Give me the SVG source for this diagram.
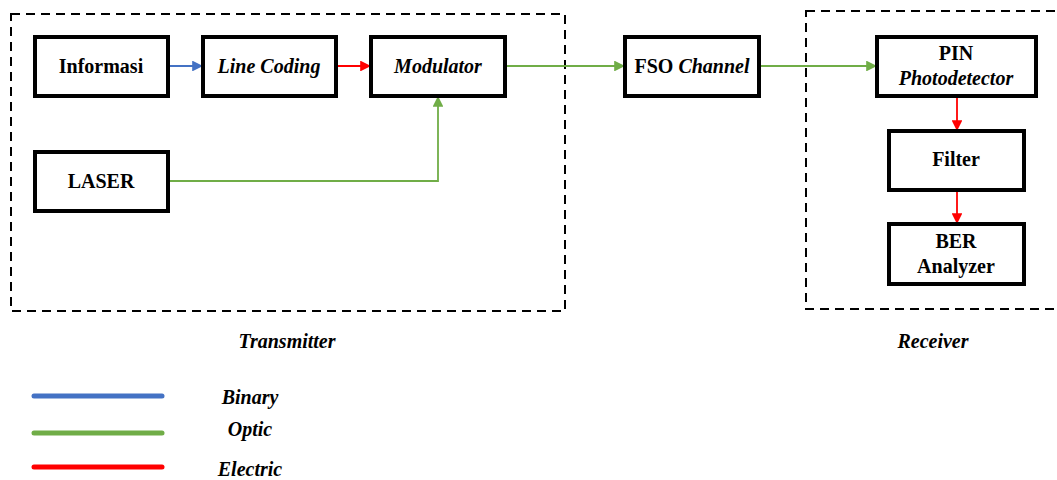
<svg xmlns="http://www.w3.org/2000/svg" width="1057" height="480" viewBox="0 0 1057 480">
<style>
.box{fill:#fff;stroke:#000;stroke-width:4}
.grp{fill:none;stroke:#000;stroke-width:2;stroke-dasharray:9,6}
text{font-family:"Liberation Serif",serif;font-size:20px;font-weight:bold;fill:#000;text-anchor:middle}
.i{font-style:italic}
.c{fill:none;stroke-width:1.8}
.blue{stroke:#4472C4}
.green{stroke:#70AD47}
.red{stroke:#FF0000}
.leg{stroke-width:5;stroke-linecap:round}
</style>
<defs>
<marker id="ab" viewBox="0 0 10 10" refX="10" refY="5" markerWidth="6.5" markerHeight="6" orient="auto" markerUnits="strokeWidth"><path d="M0,0L10,5L0,10z" fill="#4472C4"/></marker>
<marker id="ag" viewBox="0 0 10 10" refX="10" refY="5" markerWidth="6.5" markerHeight="6" orient="auto" markerUnits="strokeWidth"><path d="M0,0L10,5L0,10z" fill="#70AD47"/></marker>
<marker id="ar" viewBox="0 0 10 10" refX="10" refY="5" markerWidth="6.5" markerHeight="6" orient="auto" markerUnits="strokeWidth"><path d="M0,0L10,5L0,10z" fill="#FF0000"/></marker>
</defs>
<g id="groups">
<rect class="grp" x="11" y="14" width="554" height="297"/>
<rect class="grp" x="806" y="11" width="260" height="298"/>
<text class="i" x="287" y="348">Transmitter</text>
<text class="i" x="933" y="348">Receiver</text>
</g>
<g id="connectors">
<path class="c blue" d="M168,66H203" marker-end="url(#ab)"/>
<path class="c red" d="M336,66H371" marker-end="url(#ar)"/>
<path class="c green" d="M505,66H625" marker-end="url(#ag)"/>
<path class="c green" d="M168,181H438V96" marker-end="url(#ag)"/>
<path class="c green" d="M759,66H877" marker-end="url(#ag)"/>
<path class="c red" d="M957,96V131" marker-end="url(#ar)"/>
<path class="c red" d="M957,190V224" marker-end="url(#ar)"/>
</g>
<g id="informasi"><rect class="box" x="35" y="37" width="133" height="59"/><text x="101" y="73">Informasi</text></g>
<g id="line-coding"><rect class="box" x="203" y="37" width="133" height="59"/><text class="i" x="269" y="73">Line Coding</text></g>
<g id="modulator"><rect class="box" x="371" y="37" width="134" height="59"/><text class="i" x="438" y="73">Modulator</text></g>
<g id="laser"><rect class="box" x="35" y="152" width="133" height="59"/><text x="101" y="188">LASER</text></g>
<g id="fso-channel"><rect class="box" x="625" y="37" width="134" height="59"/><text x="692" y="73">FSO <tspan class="i">Channel</tspan></text></g>
<g id="pin"><rect class="box" x="877" y="37" width="159" height="59"/><text x="956" y="60">PIN</text><text class="i" x="956" y="85">Photodetector</text></g>
<g id="filter"><rect class="box" x="889" y="131" width="135" height="59"/><text x="956" y="166">Filter</text></g>
<g id="ber"><rect class="box" x="889" y="224" width="135" height="60"/><text x="956" y="248">BER</text><text x="956" y="273">Analyzer</text></g>
<g id="legend">
<line class="leg blue" x1="34" y1="396" x2="162" y2="396"/>
<line class="leg green" x1="34" y1="433" x2="162" y2="433"/>
<line class="leg red" x1="34" y1="467" x2="162" y2="467"/>
<text class="i" x="250" y="404">Binary</text>
<text class="i" x="250" y="436">Optic</text>
<text class="i" x="250" y="476">Electric</text>
</g>
</svg>
